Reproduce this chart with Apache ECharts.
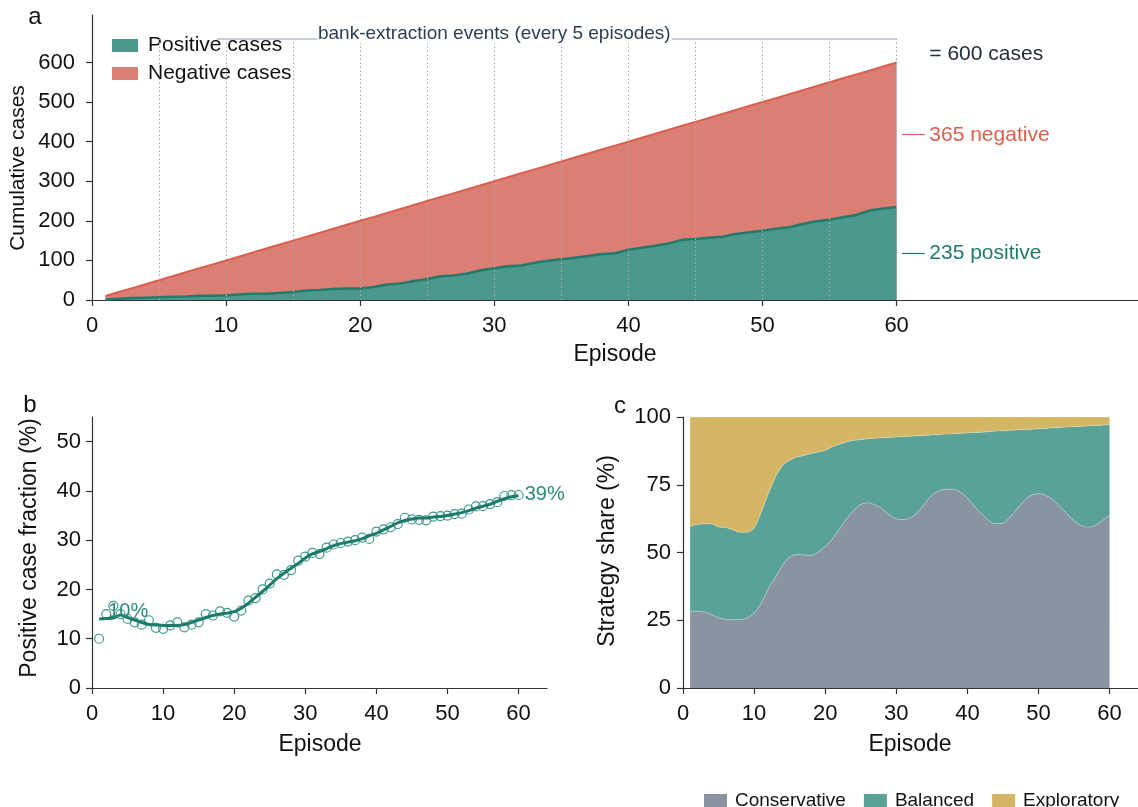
<!DOCTYPE html>
<html>
<head>
<meta charset="utf-8">
<script src="https://cdn.jsdelivr.net/npm/echarts@6/dist/echarts.min.js"></script>
<style>
html,body{margin:0;padding:0;background:#fff;}
#chart{width:1138px;height:807px;}
</style>
</head>
<body>
<div id="chart"></div>
<script>
// ---------- DATA ----------
const episodes = [1,2,3,4,5,6,7,8,9,10,11,12,13,14,15,16,17,18,19,20,21,22,23,24,25,26,27,28,29,30,31,32,33,34,35,36,37,38,39,40,41,42,43,44,45,46,47,48,49,50,51,52,53,54,55,56,57,58,59,60];
const totalCases = [10,20,30,40,50,60,70,80,90,100,110,120,130,140,150,160,170,180,190,200,210,220,230,240,250,260,270,280,290,300,310,320,330,340,350,360,370,380,390,400,410,420,430,440,450,460,470,480,490,500,510,520,530,540,550,560,570,580,590,600];
const positiveCases = [1,3,5,6,7,8,9,11,11,12,14,16,16,18,20,24,25,28,29,29,33,39,42,48,53,60,62,67,75,80,85,87,94,99,103,107,111,116,118,127,132,137,143,152,154,157,160,167,171,175,180,184,192,199,203,209,215,226,231,235];
const smoothFraction = [14.0,14.1,14.2,14.8,14.3,13.8,13.3,12.9,12.8,12.7,12.7,12.7,12.9,13.3,13.8,14.3,14.7,15.0,15.2,15.5,16.2,17.2,18.4,19.6,20.9,22.2,23.3,24.3,25.3,26.4,27.2,27.7,28.3,28.9,29.3,29.6,29.9,30.3,30.9,31.4,32.1,32.8,33.5,34.0,34.3,34.5,34.5,34.7,34.8,35.0,35.3,35.6,36.0,36.5,36.9,37.3,37.9,38.4,38.8,39.0];
const conservative = [28.3,28.3,28.0,27.1,25.9,25.4,25.2,25.2,25.9,27.6,31.3,36.6,40.9,45.2,48.3,49.3,49.1,48.9,50.1,52.2,55.0,58.7,62.4,65.5,67.7,68.3,67.6,66.1,64.0,62.4,62.2,62.8,64.9,68.0,71.1,72.7,73.3,73.3,72.3,70.1,67.0,64.3,61.8,60.6,60.8,63.1,66.1,69.2,71.1,71.7,71.1,69.5,67.0,64.3,61.6,60.0,59.4,60.0,61.8,63.7];
const balanced = [31.3,32.0,32.6,33.5,33.5,33.8,33.2,32.3,31.6,31.4,33.6,35.1,36.9,36.9,35.7,35.9,36.7,37.6,37.0,35.5,33.9,31.2,28.4,25.9,23.9,23.7,24.6,26.2,28.5,30.2,30.6,30.1,28.2,25.2,22.3,20.8,20.4,20.5,21.7,24.0,27.3,30.1,32.8,34.2,34.1,32.0,29.1,26.2,24.4,24.0,24.7,26.5,29.1,32.0,34.8,36.6,37.3,36.9,35.2,33.5];
const exploratory = [40.4,39.7,39.4,39.4,40.6,40.8,41.6,42.5,42.5,41.0,35.1,28.3,22.2,17.9,16.0,14.8,14.2,13.5,12.9,12.3,11.1,10.1,9.2,8.6,8.4,8.0,7.8,7.7,7.5,7.4,7.2,7.1,6.9,6.8,6.6,6.5,6.3,6.2,6.0,5.9,5.7,5.6,5.4,5.2,5.1,4.9,4.8,4.6,4.5,4.3,4.2,4.0,3.9,3.7,3.6,3.4,3.3,3.1,3.0,2.8];
const bankEvents = [5,10,15,20,25,30,35,40,45,50,55,60];
const xTicks = [0,10,20,30,40,50,60];
const yTicksA = [0,100,200,300,400,500,600];
const yTicksB = [0,10,20,30,40,50];
const yTicksC = [0,25,50,75,100];

// ---------- DERIVED ----------
const pair = (xs, ys) => xs.map((x, i) => [x, ys[i]]);
const nEp = episodes.length;
const lastEp = episodes[nEp - 1];
const totalLast = totalCases[nEp - 1];
const posLast = positiveCases[nEp - 1];
const negLast = totalLast - posLast;
const fraction = positiveCases.map((p, i) => +(p / totalCases[i] * 100).toFixed(2));
// panel c uses a category axis 0..64 so the stacked areas stack on y
const catMaxC = 64;
const catC = [];
for (let i = 0; i <= catMaxC; i++) catC.push(String(i));
const alignC = vals => { const a = catC.map(() => '-'); episodes.forEach((e, i) => { a[e] = vals[i]; }); return a; };

const FONT = "'Liberation Sans', Arial, Helvetica, sans-serif";
const C_POS = '#4b998c', C_POS_LINE = '#237a6a';
const C_NEG = '#db7f74', C_NEG_LINE = '#d9604e';
const C_CONS = '#8a94a0', C_BAL = '#5aa196', C_EXP = '#d4b665';
const AX = '#333';
const TICK_FS = 22;

function xAxisCfg(gi, max) {
  return {
    type: 'value', gridIndex: gi, min: 0, max: max,
    axisLine: {show: true, lineStyle: {color: AX, width: 1.2}},
    axisTick: {show: true, length: 6, lineStyle: {color: AX, width: 1.2}, customValues: xTicks},
    axisLabel: {color: '#111', fontSize: TICK_FS, fontFamily: FONT, margin: 15, customValues: xTicks},
    splitLine: {show: false}
  };
}
function yAxisCfg(gi, max, ticks, margin) {
  return {
    type: 'value', gridIndex: gi, min: 0, max: max,
    axisLine: {show: true, lineStyle: {color: AX, width: 1.2}},
    axisTick: {show: true, length: 6, lineStyle: {color: AX, width: 1.2}, customValues: ticks},
    axisLabel: {color: '#111', fontSize: TICK_FS, fontFamily: FONT, margin: margin, customValues: ticks},
    splitLine: {show: false}
  };
}
const everyTen = idx => idx % 10 === 0;

const chart = echarts.init(document.getElementById('chart'), null, {renderer: 'canvas'});

const annotationA = [
  {value: [62.4, totalLast + 20], label: {formatter: '= ' + totalLast + ' cases', color: '#232c38'}},
  {value: [62.4, posLast + negLast / 2], label: {formatter: negLast + ' negative', color: C_NEG_LINE}},
  {value: [62.4, posLast / 2], label: {formatter: posLast + ' positive', color: '#1f7a6a'}}
];

const option = {
  animation: false,
  backgroundColor: '#fff',
  textStyle: {fontFamily: FONT},
  grid: [
    {left: 92, top: 15, width: 1046, height: 285},
    {left: 92, top: 417, width: 455, height: 271},
    {left: 683, top: 417, width: 455, height: 271}
  ],
  xAxis: [
    xAxisCfg(0, 78),
    xAxisCfg(1, 64),
    {
      type: 'category', gridIndex: 2, data: catC, boundaryGap: false,
      axisLine: {show: true, lineStyle: {color: AX, width: 1.2}},
      axisTick: {show: true, length: 6, interval: everyTen, lineStyle: {color: AX, width: 1.2}},
      axisLabel: {color: '#111', fontSize: TICK_FS, fontFamily: FONT, margin: 15, interval: everyTen},
      splitLine: {show: false}
    }
  ],
  yAxis: [yAxisCfg(0, 720, yTicksA, 17), yAxisCfg(1, 55, yTicksB, 11), yAxisCfg(2, 100, yTicksC, 12)],
  legend: [
    {
      data: ['Positive cases', 'Negative cases'],
      left: 107, top: 30, orient: 'vertical', icon: 'rect',
      itemWidth: 26, itemHeight: 13, itemGap: 7,
      textStyle: {fontSize: 21, color: '#111', fontFamily: FONT, padding: [0,0,0,5]}
    },
    {
      data: ['Conservative', 'Balanced', 'Exploratory'],
      left: 699, top: 786, orient: 'horizontal', icon: 'rect',
      itemWidth: 23, itemHeight: 13, itemGap: 18,
      textStyle: {fontSize: 19, color: '#111', fontFamily: FONT, padding: [0,0,0,3]}
    }
  ],
  series: [
    {
      name: 'Negative cases', type: 'line', xAxisIndex: 0, yAxisIndex: 0,
      data: pair(episodes, totalCases), symbol: 'none', z: 2,
      color: C_NEG, lineStyle: {color: C_NEG_LINE, width: 2}, areaStyle: {color: C_NEG, opacity: 1}
    },
    {
      name: 'Positive cases', type: 'line', xAxisIndex: 0, yAxisIndex: 0,
      data: pair(episodes, positiveCases), symbol: 'none', z: 3,
      color: C_POS, lineStyle: {color: C_POS_LINE, width: 2.5}, areaStyle: {color: C_POS, opacity: 1}
    },
    {
      name: 'annotA', type: 'scatter', xAxisIndex: 0, yAxisIndex: 0, z: 6,
      symbolSize: 1, itemStyle: {color: 'rgba(0,0,0,0)', opacity: 1},
      label: {show: true, position: 'right', distance: 0, fontSize: 21, fontFamily: FONT},
      data: annotationA,
      markLine: {
        silent: true, symbol: 'none', animation: false,
        label: {show: false},
        data: bankEvents.map(e => [
          {coord: [e, 0], lineStyle: {color: '#a3aab5', type: [1.5, 2.5], width: 1}},
          {coord: [e, 660]}
        ]).concat([
          [{coord: [9.3, 660], lineStyle: {color: '#b7bec8', type: 'solid', width: 1.5}}, {coord: [lastEp, 660]}],
          [{coord: [60.4, posLast + negLast / 2], lineStyle: {color: C_NEG_LINE, type: 'solid', width: 1.2}}, {coord: [62.1, posLast + negLast / 2]}],
          [{coord: [60.4, posLast / 2], lineStyle: {color: '#1f7a6a', type: 'solid', width: 1.2}}, {coord: [62.1, posLast / 2]}]
        ])
      },
      markPoint: {
        symbol: 'circle', symbolSize: 1, itemStyle: {color: 'rgba(0,0,0,0)', opacity: 1},
        data: [{
          coord: [30, 660],
          label: {show: true, formatter: 'bank-extraction events (every 5 episodes)', position: 'inside',
            offset: [0, -5], color: '#2c3e50', fontSize: 19, fontFamily: FONT,
            backgroundColor: '#fff', padding: [0, 1]}
        }]
      }
    },
    {
      name: 'fraction', type: 'scatter', xAxisIndex: 1, yAxisIndex: 1, z: 2,
      data: pair(episodes, fraction), symbol: 'circle', symbolSize: 9,
      itemStyle: {color: 'rgba(0,0,0,0)', borderColor: '#3d9a8a', borderWidth: 1.2, opacity: 1}
    },
    {
      name: 'smooth', type: 'line', xAxisIndex: 1, yAxisIndex: 1, z: 3,
      data: pair(episodes, smoothFraction), symbol: 'none', smooth: 0.3,
      lineStyle: {color: '#1e7b6b', width: 3}
    },
    {
      name: 'annotB', type: 'scatter', xAxisIndex: 1, yAxisIndex: 1, z: 6,
      symbolSize: 1, itemStyle: {color: 'rgba(0,0,0,0)', opacity: 1},
      label: {show: true, position: 'right', distance: 0, fontSize: 20, fontFamily: FONT, color: '#2a8a7a'},
      data: [
        {value: [2.2, 15.5], label: {formatter: Math.round(fraction[0]) + '%'}},
        {value: [lastEp + 0.8, 39.3], label: {formatter: Math.round(fraction[nEp - 1]) + '%'}}
      ]
    },
    {
      name: 'Conservative', type: 'line', xAxisIndex: 2, yAxisIndex: 2, stack: 'strat',
      data: alignC(conservative), symbol: 'none', smooth: 0.35, color: C_CONS,
      lineStyle: {width: 0.8, color: 'rgba(255,255,255,0.35)'}, areaStyle: {color: C_CONS, opacity: 1}
    },
    {
      name: 'Balanced', type: 'line', xAxisIndex: 2, yAxisIndex: 2, stack: 'strat',
      data: alignC(balanced), symbol: 'none', smooth: 0.35, color: C_BAL,
      lineStyle: {width: 0.8, color: 'rgba(255,255,255,0.35)'}, areaStyle: {color: C_BAL, opacity: 1}
    },
    {
      name: 'Exploratory', type: 'line', xAxisIndex: 2, yAxisIndex: 2, stack: 'strat',
      data: alignC(exploratory), symbol: 'none', smooth: 0.35, color: C_EXP,
      lineStyle: {width: 0.8, color: 'rgba(255,255,255,0.35)'}, areaStyle: {color: C_EXP, opacity: 1}
    }
  ],
  graphic: [
    {type: 'text', x: 35, y: 17, style: {text: 'a', font: '24px ' + FONT, fill: '#111', align: 'center', verticalAlign: 'middle'}},
    {type: 'text', x: 18, y: 168, rotation: Math.PI / 2, style: {text: 'Cumulative cases', font: '21px ' + FONT, fill: '#111', align: 'center', verticalAlign: 'middle'}},
    {type: 'text', x: 615, y: 355, style: {text: 'Episode', font: '23px ' + FONT, fill: '#111', align: 'center', verticalAlign: 'middle'}},
    {type: 'text', x: 30, y: 405, style: {text: 'b', font: '24px ' + FONT, fill: '#111', align: 'center', verticalAlign: 'middle'}},
    {type: 'text', x: 30, y: 548, rotation: Math.PI / 2, style: {text: 'Positive case fraction (%)', font: '23px ' + FONT, fill: '#111', align: 'center', verticalAlign: 'middle'}},
    {type: 'text', x: 320, y: 745, style: {text: 'Episode', font: '23px ' + FONT, fill: '#111', align: 'center', verticalAlign: 'middle'}},
    {type: 'text', x: 620, y: 406, style: {text: 'c', font: '24px ' + FONT, fill: '#111', align: 'center', verticalAlign: 'middle'}},
    {type: 'text', x: 608, y: 551, rotation: Math.PI / 2, style: {text: 'Strategy share (%)', font: '23px ' + FONT, fill: '#111', align: 'center', verticalAlign: 'middle'}},
    {type: 'text', x: 910, y: 745, style: {text: 'Episode', font: '23px ' + FONT, fill: '#111', align: 'center', verticalAlign: 'middle'}}
  ]
};
chart.setOption(option);
</script>
</body>
</html>
